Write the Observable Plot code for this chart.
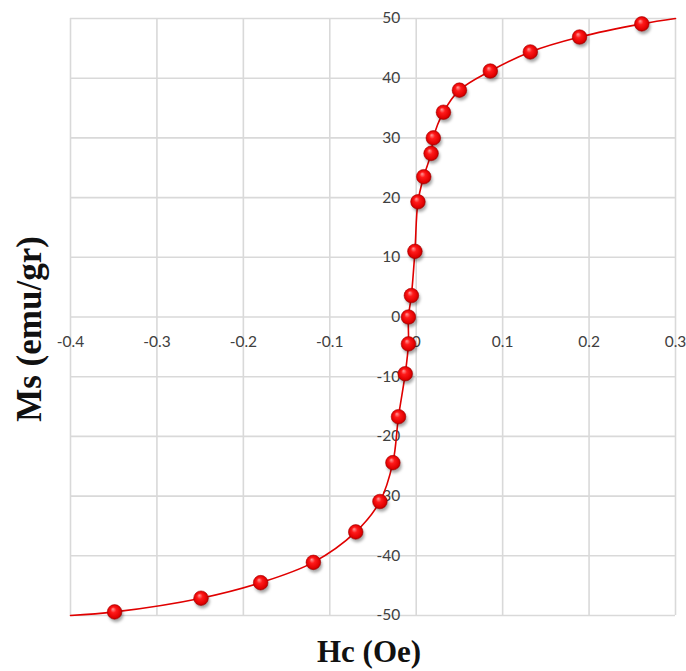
<!DOCTYPE html>
<html>
<head>
<meta charset="utf-8">
<script src="https://cdn.jsdelivr.net/npm/d3@7"></script>
<script src="https://cdn.jsdelivr.net/npm/@observablehq/plot@0.6"></script>
<style>
  html, body { margin: 0; padding: 0; background: #ffffff; }
  #chart { width: 686px; height: 671px; }
</style>
</head>
<body>
<div id="chart"></div>
<script>
// Measured points
const hcPoints = [-0.349, -0.249, -0.180, -0.119, -0.070, -0.042, -0.027, -0.0205, -0.0127, -0.009, -0.009, -0.0056, -0.0015, 0.002, 0.0087, 0.0172, 0.0198, 0.0315, 0.050, 0.0857, 0.132, 0.189, 0.261];
const msPoints = [-49.4, -47.1, -44.5, -41.1, -36.0, -30.9, -24.4, -16.7, -9.5, -4.5, 0.0, 3.6, 11.0, 19.3, 23.5, 27.4, 30.0, 34.3, 38.0, 41.2, 44.4, 46.9, 49.1];
// Smooth fitted line (extends to the chart edges)
const hcLine = [-0.4, ...hcPoints, 0.3];
const msLine = [-50.0, ...msPoints, 50.0];
// Axis ticks
const xTicks = [-0.4, -0.3, -0.2, -0.1, 0, 0.1, 0.2, 0.3];
const xTickLabels = ["-0.4", "-0.3", "-0.2", "-0.1", "0", "0.1", "0.2", "0.3"];
const yTicks = [-50, -40, -30, -20, -10, 0, 10, 20, 30, 40, 50];
const yTickLabels = ["-50", "-40", "-30", "-20", "-10", "0", "10", "20", "30", "40", "50"];
const xTitle = "Hc (Oe)";
const yTitle = "Ms (emu/gr)";

const points = hcPoints.map((h, i) => ({h, m: msPoints[i]}));
const line = hcLine.map((h, i) => ({h, m: msLine[i]}));
const xt = xTicks.map((v, i) => ({v, t: xTickLabels[i]}));
const yt = yTicks.map((v, i) => ({v, t: yTickLabels[i]}));

const tickFont = "Lato, 'Open Sans', sans-serif";
const titleFont = "'Liberation Serif', 'DejaVu Serif', serif";

const chart = Plot.plot({
  width: 686,
  height: 671,
  marginLeft: 70,
  marginRight: 11,
  marginTop: 18,
  marginBottom: 56,
  x: {domain: [-0.4, 0.3], axis: null},
  y: {domain: [-50, 50], axis: null},
  style: {background: "#ffffff", overflow: "visible"},
  marks: [
    Plot.ruleX(xTicks, {stroke: "#d9d9d9", strokeWidth: 1.6}),
    Plot.ruleY(yTicks, {stroke: "#d9d9d9", strokeWidth: 1.6}),
    Plot.text(xt, {x: "v", y: () => 0, text: "t", dy: 25, fill: "#404040", fontSize: 15.5, fontFamily: tickFont, textAnchor: "middle"}),
    Plot.text(yt, {x: () => 0, y: "v", text: "t", dx: -16, fill: "#404040", fontSize: 15.5, fontFamily: tickFont, textAnchor: "end"}),
    Plot.line(line, {x: "h", y: "m", curve: "catmull-rom", stroke: "#e00000", strokeWidth: 1.6}),
    Plot.dot(points, {x: "h", y: "m", r: 7.3, fill: "#000000", fillOpacity: 0.35, stroke: "none", dx: 1.5, dy: 3}),
    Plot.dot(points, {x: "h", y: "m", r: 7.3, fill: "red", stroke: "#b00000", strokeWidth: 0.6}),
    Plot.text([yTitle], {frameAnchor: "middle", textAnchor: "middle", dx: -343, dy: 12, rotate: -90, fontSize: 35, fontWeight: "bold", fontFamily: titleFont, fill: "#111111"}),
    Plot.text([xTitle], {frameAnchor: "bottom", textAnchor: "middle", dx: -4, dy: 46, fontSize: 31, fontWeight: "bold", fontFamily: titleFont, fill: "#111111"})
  ]
});

// Sphere shading and soft shadow
const ns = "http://www.w3.org/2000/svg";
const defs = document.createElementNS(ns, "defs");
defs.innerHTML = `
  <radialGradient id="ball" cx="0.5" cy="0.5" r="0.55" fx="0.38" fy="0.3">
    <stop offset="0" stop-color="#ff9a9a"/>
    <stop offset="0.35" stop-color="#ff1a1a"/>
    <stop offset="0.8" stop-color="#e00000"/>
    <stop offset="1" stop-color="#8a0000"/>
  </radialGradient>
  <filter id="soft" x="-1" y="-1" width="3" height="3">
    <feGaussianBlur stdDeviation="1.6"/>
  </filter>`;
chart.insertBefore(defs, chart.firstChild);
const dotGroups = chart.querySelectorAll('g[aria-label="dot"]');
if (dotGroups.length >= 2) {
  dotGroups[0].setAttribute("filter", "url(#soft)");
  dotGroups[1].querySelectorAll("circle").forEach(c => c.setAttribute("fill", "url(#ball)"));
}
document.getElementById("chart").appendChild(chart);
</script>
</body>
</html>
